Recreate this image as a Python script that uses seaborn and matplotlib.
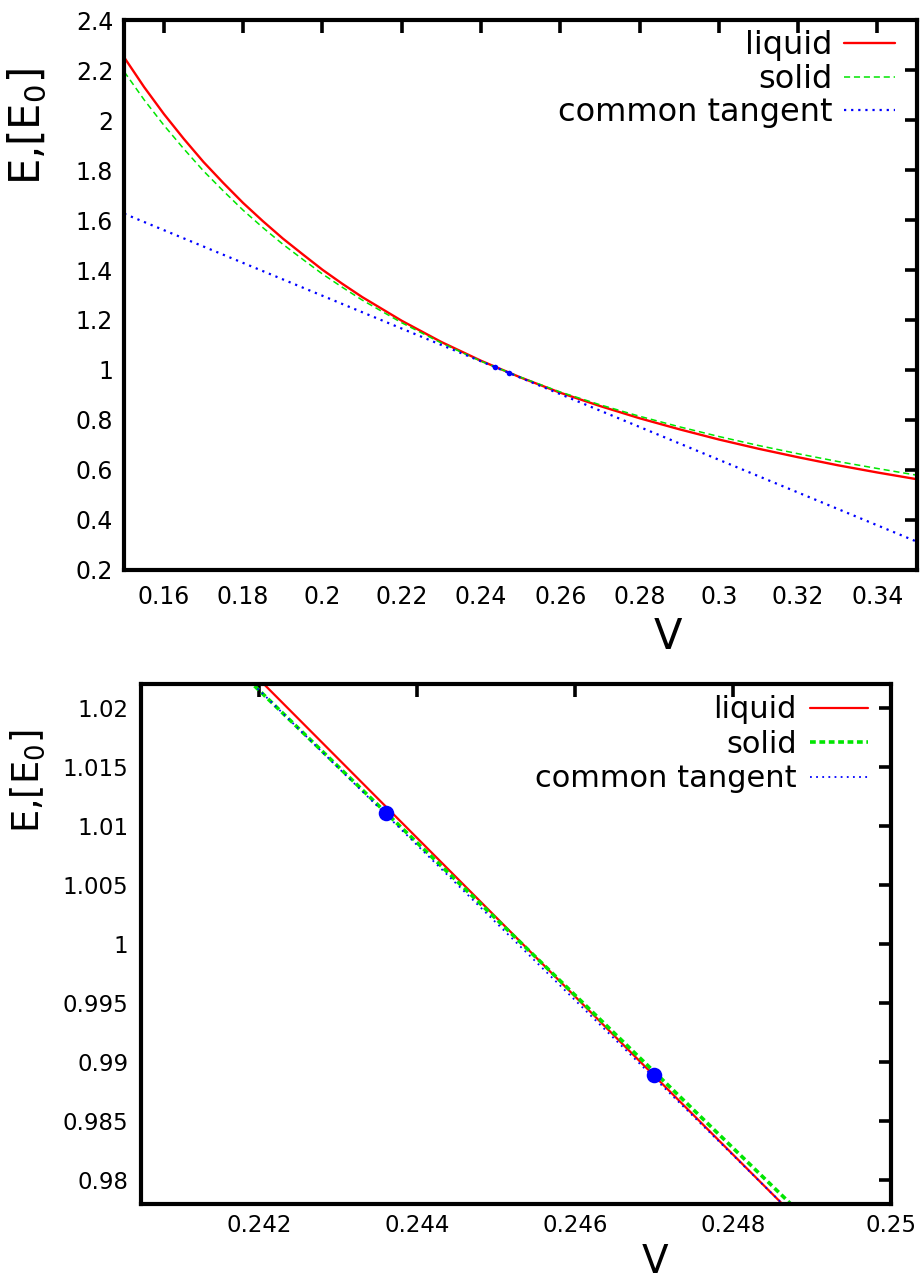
import matplotlib
matplotlib.use("Agg")
import matplotlib.pyplot as plt
import seaborn as sns

# ---------------- data ----------------
V_grid = [0.150, 0.155, 0.160, 0.165, 0.170, 0.175, 0.180, 0.185, 0.190, 0.195,
          0.200, 0.205, 0.21, 0.22, 0.23, 0.24, 0.25,
          0.26, 0.27, 0.28, 0.29, 0.30, 0.31, 0.32, 0.33, 0.34, 0.35]
liquid_E = [2.250, 2.132, 2.024, 1.925, 1.832, 1.748, 1.668, 1.595, 1.526, 1.463,
            1.401, 1.345, 1.292, 1.197, 1.112, 1.037, 0.970,
            0.909, 0.856, 0.807, 0.763, 0.722, 0.685, 0.651, 0.619, 0.590, 0.563]
solid_E = [2.193, 2.081, 1.979, 1.885, 1.796, 1.716, 1.639, 1.569, 1.503, 1.443,
           1.384, 1.331, 1.280, 1.189, 1.108, 1.035, 0.971,
           0.912, 0.861, 0.815, 0.773, 0.734, 0.698, 0.665, 0.634, 0.606, 0.579]
tangent_V = [0.15, 0.35]
tangent_E = [1.625, 0.313]
contact_V = [0.2436, 0.2470]
contact_E = [1.0111, 0.9889]

# zoomed panel
zoom_V = [0.2410, 0.2455, 0.2500]
liquid_zoom_E = [1.0291, 0.9989, 0.9688]
solid_zoom_E = [1.0279, 0.9989, 0.9698]

series_labels = ["liquid", "solid", "common tangent"]
top_xticks = [0.16, 0.18, 0.20, 0.22, 0.24, 0.26, 0.28, 0.30, 0.32, 0.34]
top_yticks = [0.2, 0.4, 0.6, 0.8, 1.0, 1.2, 1.4, 1.6, 1.8, 2.0, 2.2, 2.4]
bottom_xticks = [0.242, 0.244, 0.246, 0.248, 0.250]
bottom_yticks = [0.980, 0.985, 0.990, 0.995, 1.000, 1.005, 1.010, 1.015, 1.020]

# ---------------- style ----------------
sns.set_theme(style="white")
plt.rcParams["font.family"] = ["DejaVu Sans"]
plt.rcParams["axes.linewidth"] = 3.0
plt.rcParams["axes.edgecolor"] = "black"
plt.rcParams["text.color"] = "black"
plt.rcParams["axes.labelcolor"] = "black"
plt.rcParams["xtick.color"] = "black"
plt.rcParams["ytick.color"] = "black"

RED = "#ff0000"
GREEN = "#00e600"
BLUE = "#0000ff"

fig = plt.figure(figsize=(9.24, 12.84), dpi=100)
ax1 = fig.add_axes([0.1345, 0.5561, 0.8579, 0.4283])
ax2 = fig.add_axes([0.1523, 0.0623, 0.8120, 0.4050])


def style_axes(ax, xt, yt, xlim, ylim, tick_fs, xpad, ypad):
    ax.set_xlim(*xlim)
    ax.set_ylim(*ylim)
    ax.set_xticks(xt)
    ax.set_xticklabels(["%g" % v for v in xt])
    ax.set_yticks(yt)
    ax.set_yticklabels(["%g" % v for v in yt])
    ax.tick_params(axis="both", which="major", direction="in", length=9, width=2.6,
                   top=True, right=True, labelsize=tick_fs, colors="black")
    ax.tick_params(axis="x", pad=xpad)
    ax.tick_params(axis="y", pad=ypad)
    ax.grid(False)
    for s in ax.spines.values():
        s.set_linewidth(3.0)
        s.set_color("black")


# ---------------- top panel ----------------
sns.lineplot(x=V_grid, y=liquid_E, ax=ax1, color=RED, lw=1.7, sort=False,
             estimator=None, label=series_labels[0])
sns.lineplot(x=V_grid, y=solid_E, ax=ax1, color=GREEN, lw=1.1, sort=False,
             estimator=None, linestyle=(0, (4, 2.5)), label=series_labels[1])
sns.lineplot(x=tangent_V, y=tangent_E, ax=ax1, color=BLUE, lw=1.6, sort=False,
             estimator=None, linestyle=(0, (1, 2.2)), label=series_labels[2])
sns.scatterplot(x=contact_V, y=contact_E, ax=ax1, color=BLUE, s=16, linewidth=0,
                zorder=5, legend=False)

style_axes(ax1, top_xticks, top_yticks, (0.15, 0.35), (0.2, 2.4), 17, 11, 8)
ax1.set_xlabel("V", fontsize=30)
ax1.set_ylabel("E,[E$_0$]", fontsize=30)
ax1.xaxis.set_label_coords(0.6856, -0.122)
ax1.xaxis.label.set_va("center")
ax1.yaxis.set_label_coords(-0.122, 0.807)
ax1.yaxis.label.set_va("center")

h1 = ax1.get_lines()[:3]
ax1.legend(h1, series_labels, loc="upper right", bbox_to_anchor=(0.9728, 0.981),
           frameon=False, markerfirst=False, fontsize=23, handlelength=1.6,
           handletextpad=0.37, labelspacing=0.07, borderaxespad=0, borderpad=0)

# ---------------- bottom panel ----------------
sns.lineplot(x=zoom_V, y=liquid_zoom_E, ax=ax2, color=RED, lw=1.6, sort=False,
             estimator=None, label=series_labels[0])
sns.lineplot(x=zoom_V, y=solid_zoom_E, ax=ax2, color=GREEN, lw=2.6, sort=False,
             estimator=None, linestyle=(0, (1.6, 1.0)), label=series_labels[1])
sns.lineplot(x=tangent_V, y=tangent_E, ax=ax2, color=BLUE, lw=1.3, sort=False,
             estimator=None, linestyle=(0, (1, 2.4)), label=series_labels[2])
sns.scatterplot(x=contact_V, y=contact_E, ax=ax2, color=BLUE, s=125, linewidth=0,
                zorder=5, legend=False)

style_axes(ax2, bottom_xticks, bottom_yticks, (0.2405, 0.2500), (0.978, 1.022), 16.5, 7, 9)
ax2.set_xlabel("V", fontsize=28)
ax2.set_ylabel("E,[E$_0$]", fontsize=26.5)
ax2.xaxis.set_label_coords(0.6855, -0.1115)
ax2.xaxis.label.set_va("center")
ax2.yaxis.set_label_coords(-0.150, 0.8125)
ax2.yaxis.label.set_va("center")

h2 = ax2.get_lines()[:3]
ax2.legend(h2, series_labels, loc="upper right", bbox_to_anchor=(0.9693, 0.978),
           frameon=False, markerfirst=False, fontsize=22, handlelength=1.9,
           handletextpad=0.43, labelspacing=0.18, borderaxespad=0, borderpad=0)

fig.savefig("out.png", dpi=100, facecolor="white")
